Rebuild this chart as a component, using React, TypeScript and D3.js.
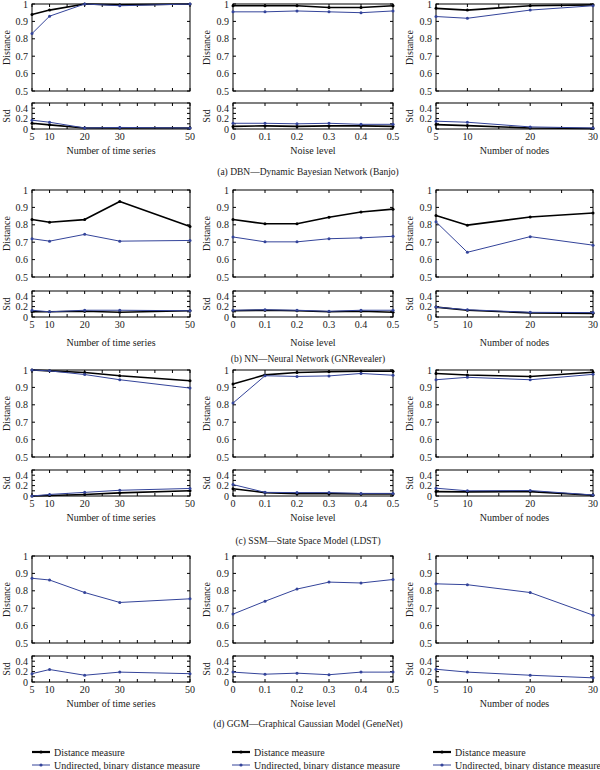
import React from "react";
import * as d3 from "d3";

// ---------- x values ----------
const timeSeries = [5, 10, 20, 30, 50];
const noiseLevels = [0, 0.1, 0.2, 0.3, 0.4, 0.5];
const nodeCounts = [5, 10, 20, 30];

const timeTickLabels = [5, 10, 20, 30, 50];
const noiseTickLabels = [0, 0.1, 0.2, 0.3, 0.4, 0.5];
const nodeTickLabels = [5, 10, 20, 30];

const distTickLabels = [0.5, 0.6, 0.7, 0.8, 0.9, 1];
const stdTickLabels = [0, 0.2, 0.4];

const xTitles = ["Number of time series", "Noise level", "Number of nodes"];
const captions = [
  "(a) DBN\u2014Dynamic Bayesian Network (Banjo)",
  "(b) NN\u2014Neural Network (GNRevealer)",
  "(c) SSM\u2014State Space Model (LDST)",
  "(d) GGM\u2014Graphical Gaussian Model (GeneNet)",
];
const legendLabels = ["Distance measure", "Undirected, binary distance measure"];

// ---------- (a) DBN ----------
const dbnTimeDist = [0.94, 0.965, 1.0, 0.995, 1.0];
const dbnTimeBin = [0.83, 0.93, 1.0, 0.99, 1.0];
const dbnTimeDistStd = [0.11, 0.08, 0.02, 0.02, 0.02];
const dbnTimeBinStd = [0.17, 0.13, 0.02, 0.03, 0.02];

const dbnNoiseDist = [0.99, 0.99, 0.99, 0.98, 0.98, 0.99];
const dbnNoiseBin = [0.955, 0.955, 0.96, 0.955, 0.95, 0.96];
const dbnNoiseDistStd = [0.05, 0.06, 0.05, 0.06, 0.06, 0.05];
const dbnNoiseBinStd = [0.11, 0.11, 0.1, 0.11, 0.09, 0.09];

const dbnNodesDist = [0.975, 0.965, 0.99, 0.995];
const dbnNodesBin = [0.928, 0.918, 0.965, 0.99];
const dbnNodesDistStd = [0.085, 0.065, 0.02, 0.01];
const dbnNodesBinStd = [0.15, 0.13, 0.04, 0.02];

// ---------- (b) NN ----------
const nnTimeDist = [0.83, 0.815, 0.83, 0.934, 0.79];
const nnTimeBin = [0.72, 0.706, 0.745, 0.706, 0.71];
const nnTimeDistStd = [0.1, 0.1, 0.11, 0.09, 0.12];
const nnTimeBinStd = [0.13, 0.1, 0.13, 0.13, 0.12];

const nnNoiseDist = [0.83, 0.806, 0.806, 0.843, 0.874, 0.89];
const nnNoiseBin = [0.73, 0.702, 0.702, 0.72, 0.725, 0.734];
const nnNoiseDistStd = [0.12, 0.13, 0.12, 0.1, 0.11, 0.09];
const nnNoiseBinStd = [0.13, 0.14, 0.13, 0.11, 0.13, 0.13];

const nnNodesDist = [0.853, 0.798, 0.845, 0.868];
const nnNodesBin = [0.817, 0.642, 0.732, 0.683];
const nnNodesDistStd = [0.19, 0.13, 0.08, 0.07];
const nnNodesBinStd = [0.19, 0.14, 0.09, 0.085];

// ---------- (c) SSM ----------
const ssmTimeDist = [1.0, 0.995, 0.986, 0.967, 0.938];
const ssmTimeBin = [1.0, 0.995, 0.974, 0.944, 0.896];
const ssmTimeDistStd = [0.0, 0.01, 0.03, 0.06, 0.1];
const ssmTimeBinStd = [0.0, 0.03, 0.07, 0.11, 0.145];

const ssmNoiseDist = [0.919, 0.972, 0.986, 0.99, 0.993, 0.993];
const ssmNoiseBin = [0.81, 0.967, 0.963, 0.966, 0.98, 0.97];
const ssmNoiseDistStd = [0.14, 0.065, 0.045, 0.045, 0.04, 0.04];
const ssmNoiseBinStd = [0.22, 0.07, 0.065, 0.065, 0.05, 0.05];

const ssmNodesDist = [0.98, 0.971, 0.963, 0.987];
const ssmNodesBin = [0.944, 0.958, 0.944, 0.975];
const ssmNodesDistStd = [0.085, 0.08, 0.085, 0.013];
const ssmNodesBinStd = [0.15, 0.1, 0.105, 0.02];

// ---------- (d) GGM ----------
const ggmTimeBin = [0.872, 0.862, 0.79, 0.733, 0.754];
const ggmTimeBinStd = [0.16, 0.24, 0.13, 0.19, 0.16];
const ggmNoiseBin = [0.666, 0.74, 0.81, 0.85, 0.845, 0.865];
const ggmNoiseBinStd = [0.19, 0.15, 0.17, 0.14, 0.19, 0.19];
const ggmNodesBin = [0.84, 0.835, 0.79, 0.66];
const ggmNodesBinStd = [0.245, 0.19, 0.13, 0.08];

// ---------- layout ----------
const W = 600;
const H = 770;
const colLeft = [32, 233, 436];
const colRight = [190, 393, 593];
const mainTop = [4, 190, 370, 556];
const mainH = 87;
const stdTop = [103, 291, 470, 656];
const stdH = 26;
const xTitleY = [154, 346, 521, 707];
const captionY = [175, 362, 544, 727];
const yTitleX = [7, 207, 410];
const legendX = [32, 232, 433];
const legendY = [752, 765];

const FONT = "'Liberation Serif', 'Times New Roman', serif";
const TEXT = "#1a1a1a";
const BLACK = "#000000";
const BLUE = "#34449a";

const xConfigs = [
  { xs: timeSeries, domain: [5, 50], step: 5, labels: timeTickLabels },
  { xs: noiseLevels, domain: [0, 0.5], step: 0.1, labels: noiseTickLabels },
  { xs: nodeCounts, domain: [5, 30], step: 5, labels: nodeTickLabels },
];

type Series = { dist: number[] | null; bin: number[]; distStd: number[] | null; binStd: number[] };

const panels: Series[][] = [
  [
    { dist: dbnTimeDist, bin: dbnTimeBin, distStd: dbnTimeDistStd, binStd: dbnTimeBinStd },
    { dist: dbnNoiseDist, bin: dbnNoiseBin, distStd: dbnNoiseDistStd, binStd: dbnNoiseBinStd },
    { dist: dbnNodesDist, bin: dbnNodesBin, distStd: dbnNodesDistStd, binStd: dbnNodesBinStd },
  ],
  [
    { dist: nnTimeDist, bin: nnTimeBin, distStd: nnTimeDistStd, binStd: nnTimeBinStd },
    { dist: nnNoiseDist, bin: nnNoiseBin, distStd: nnNoiseDistStd, binStd: nnNoiseBinStd },
    { dist: nnNodesDist, bin: nnNodesBin, distStd: nnNodesDistStd, binStd: nnNodesBinStd },
  ],
  [
    { dist: ssmTimeDist, bin: ssmTimeBin, distStd: ssmTimeDistStd, binStd: ssmTimeBinStd },
    { dist: ssmNoiseDist, bin: ssmNoiseBin, distStd: ssmNoiseDistStd, binStd: ssmNoiseBinStd },
    { dist: ssmNodesDist, bin: ssmNodesBin, distStd: ssmNodesDistStd, binStd: ssmNodesBinStd },
  ],
  [
    { dist: null, bin: ggmTimeBin, distStd: null, binStd: ggmTimeBinStd },
    { dist: null, bin: ggmNoiseBin, distStd: null, binStd: ggmNoiseBinStd },
    { dist: null, bin: ggmNodesBin, distStd: null, binStd: ggmNodesBinStd },
  ],
];

function fmt(v: number) {
  const r = Math.round(v * 10) / 10;
  return r === 0 ? "0" : r === 1 ? "1" : String(r);
}

function rangeStep(a: number, b: number, s: number) {
  const out: number[] = [];
  const n = Math.round((b - a) / s);
  for (let i = 0; i <= n; i++) out.push(a + i * s);
  return out;
}

function Box({
  x, y, yScale, xScale, xTicks, yTicks,
}: {
  x: [number, number]; y: [number, number]; yScale: any; xScale: any; xTicks: number[]; yTicks: number[];
}) {
  const t = 3;
  return (
    <g>
      <rect x={x[0]} y={y[0]} width={x[1] - x[0]} height={y[1] - y[0]} fill="none" stroke={BLACK} strokeWidth={1} />
      {xTicks.map((v, i) => {
        const px = xScale(v);
        return (
          <g key={"xt" + i}>
            <line x1={px} x2={px} y1={y[1]} y2={y[1] - t} stroke={BLACK} strokeWidth={1} />
            <line x1={px} x2={px} y1={y[0]} y2={y[0] + t} stroke={BLACK} strokeWidth={1} />
          </g>
        );
      })}
      {yTicks.map((v, i) => {
        const py = yScale(v);
        return (
          <g key={"yt" + i}>
            <line x1={x[0]} x2={x[0] + t} y1={py} y2={py} stroke={BLACK} strokeWidth={1} />
            <line x1={x[1]} x2={x[1] - t} y1={py} y2={py} stroke={BLACK} strokeWidth={1} />
          </g>
        );
      })}
    </g>
  );
}

function SeriesLine({ xs, ys, xScale, yScale, color, width }: any) {
  const pts = xs.map((x: number, i: number) => [x, ys[i]] as [number, number]);
  const gen = d3.line<[number, number]>().x((d) => xScale(d[0])).y((d) => yScale(d[1]));
  return (
    <g>
      <path d={gen(pts) || ""} fill="none" stroke={color} strokeWidth={width} strokeLinejoin="round" />
      {pts.map((p: [number, number], i: number) => (
        <circle key={i} cx={xScale(p[0])} cy={yScale(p[1])} r={1.5} fill={color} />
      ))}
    </g>
  );
}

function Panel({ row, col }: { row: number; col: number }) {
  const cfg = xConfigs[col];
  const s = panels[row][col];
  const xScale = d3.scaleLinear().domain(cfg.domain).range([colLeft[col], colRight[col]]);
  const yMain = d3.scaleLinear().domain([0.5, 1]).range([mainTop[row] + mainH, mainTop[row]]);
  const yStd = d3.scaleLinear().domain([0, 0.5]).range([stdTop[row] + stdH, stdTop[row]]);
  const xTicks = rangeStep(cfg.domain[0], cfg.domain[1], cfg.step);
  const mainYTicks = rangeStep(0.5, 1, 0.1);
  const stdYTicks = rangeStep(0, 0.5, 0.1);
  const left = colLeft[col];
  const right = colRight[col];
  return (
    <g>
      <Box x={[left, right]} y={[mainTop[row], mainTop[row] + mainH]} xScale={xScale} yScale={yMain} xTicks={xTicks} yTicks={mainYTicks} />
      <Box x={[left, right]} y={[stdTop[row], stdTop[row] + stdH]} xScale={xScale} yScale={yStd} xTicks={xTicks} yTicks={stdYTicks} />
      {s.dist && <SeriesLine xs={cfg.xs} ys={s.dist} xScale={xScale} yScale={yMain} color={BLACK} width={1.6} />}
      <SeriesLine xs={cfg.xs} ys={s.bin} xScale={xScale} yScale={yMain} color={BLUE} width={1} />
      {s.distStd && <SeriesLine xs={cfg.xs} ys={s.distStd} xScale={xScale} yScale={yStd} color={BLACK} width={1.6} />}
      <SeriesLine xs={cfg.xs} ys={s.binStd} xScale={xScale} yScale={yStd} color={BLUE} width={1} />
      {distTickLabels.map((v, i) => (
        <text key={"dl" + i} x={left - 4} y={yMain(v) + 3.5} textAnchor="end" fontSize={10} fill={TEXT}>
          {fmt(v)}
        </text>
      ))}
      {stdTickLabels.map((v, i) => (
        <text key={"sl" + i} x={left - 4} y={yStd(v) + 3.5} textAnchor="end" fontSize={10} fill={TEXT}>
          {fmt(v)}
        </text>
      ))}
      {cfg.labels.map((v, i) => (
        <text key={"xl" + i} x={xScale(v)} y={stdTop[row] + stdH + 11} textAnchor="middle" fontSize={10} fill={TEXT}>
          {col === 1 ? fmt(v) : String(v)}
        </text>
      ))}
      <text
        transform={`translate(${yTitleX[col] + 3},${mainTop[row] + mainH / 2}) rotate(-90)`}
        textAnchor="middle" fontSize={10} fill={TEXT}
      >
        Distance
      </text>
      <text
        transform={`translate(${yTitleX[col] + 3},${stdTop[row] + stdH / 2}) rotate(-90)`}
        textAnchor="middle" fontSize={10} fill={TEXT}
      >
        Std
      </text>
      <text x={(left + right) / 2} y={xTitleY[row]} textAnchor="middle" fontSize={10} fill={TEXT}>
        {xTitles[col]}
      </text>
    </g>
  );
}

function Legend({ x }: { x: number }) {
  return (
    <g>
      <line x1={x} x2={x + 18} y1={legendY[0]} y2={legendY[0]} stroke={BLACK} strokeWidth={2.2} />
      <circle cx={x + 9} cy={legendY[0]} r={1.6} fill={BLACK} />
      <text x={x + 22} y={legendY[0] + 3.5} fontSize={10} fill={TEXT}>{legendLabels[0]}</text>
      <line x1={x} x2={x + 18} y1={legendY[1]} y2={legendY[1]} stroke={BLUE} strokeWidth={1} />
      <circle cx={x + 9} cy={legendY[1]} r={1.6} fill={BLUE} />
      <text x={x + 22} y={legendY[1] + 3.5} fontSize={10} fill={TEXT}>{legendLabels[1]}</text>
    </g>
  );
}

export default function App() {
  return (
    <svg
      width={W}
      height={H}
      viewBox={`0 0 ${W} ${H}`}
      style={{ position: "absolute", left: 0, top: 0, background: "#fff", fontFamily: FONT }}
    >
      <rect x={0} y={0} width={W} height={H} fill="#fff" />
      {[0, 1, 2, 3].map((r) => (
        <g key={r}>
          {[0, 1, 2].map((c) => (
            <Panel key={c} row={r} col={c} />
          ))}
          <text x={308} y={captionY[r]} textAnchor="middle" fontSize={9.5} fill={TEXT}>
            {captions[r]}
          </text>
        </g>
      ))}
      {legendX.map((x, i) => (
        <Legend key={i} x={x} />
      ))}
    </svg>
  );
}
